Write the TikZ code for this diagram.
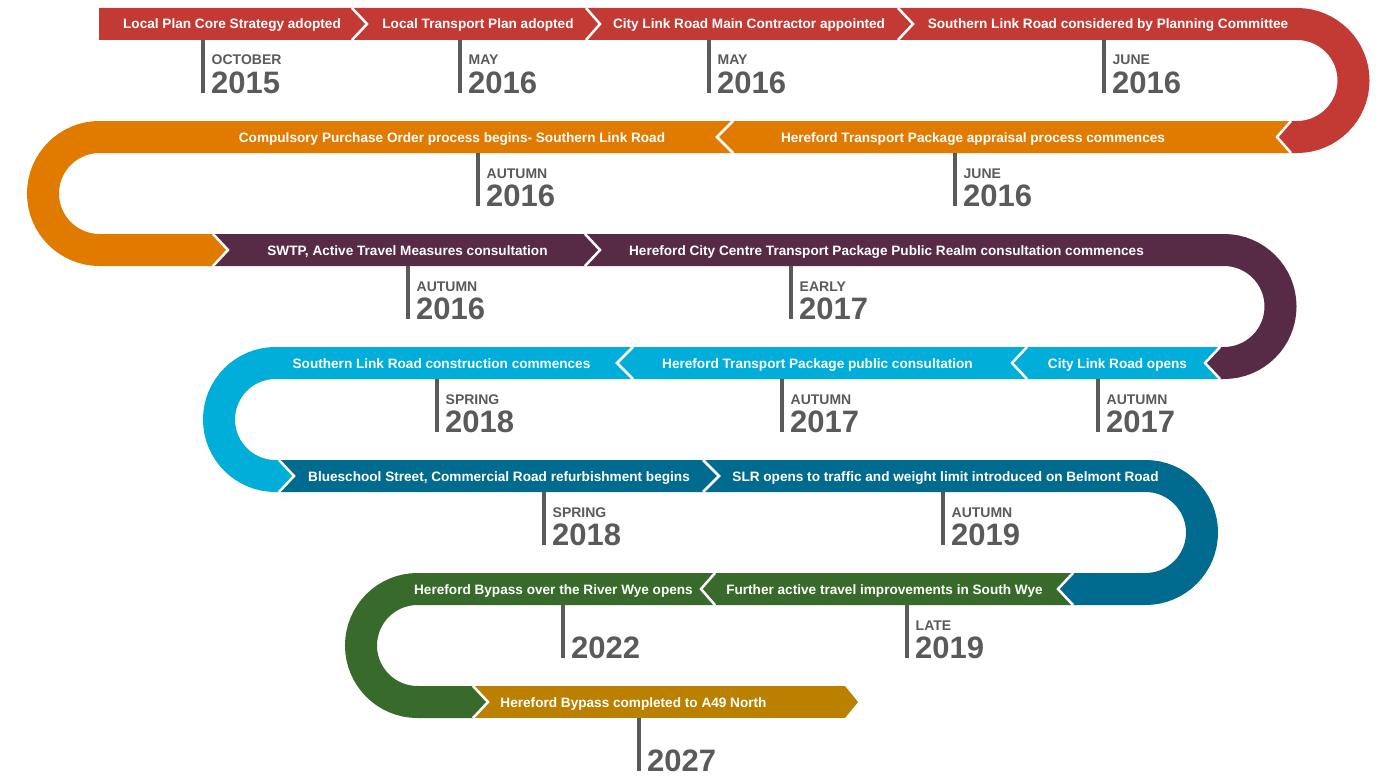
\documentclass[tikz,border=0pt]{standalone}
\usepackage{fontspec}
\setmainfont{Liberation Sans}
\usepackage{xcolor}
\usepackage{tikz}
\usetikzlibrary{positioning, calc}

\definecolor{tlred}{HTML}{C23A33}
\definecolor{tlorange}{HTML}{E17B00}
\definecolor{tlpurple}{HTML}{572A45}
\definecolor{tlcyan}{HTML}{00AED9}
\definecolor{tlteal}{HTML}{006B8F}
\definecolor{tlgreen}{HTML}{386B2B}
\definecolor{tlgold}{HTML}{BB8000}
\definecolor{tlgray}{HTML}{5A5A5A}

\begin{document}
\begin{tikzpicture}[
  x=1pt, y=1pt,
  font=\fontsize{13.6}{16}\selectfont\bfseries,
  road/.style={line width=32pt},
  sep/.style={draw=white, line width=2.5pt, miter limit=10},
  evt/.style={text=white, inner sep=0pt, anchor=base},
  tick/.style={draw=tlgray, line width=4.5pt},
  mon/.style={text=tlgray, inner sep=0pt, anchor=base west, font=\fontsize{14}{16}\selectfont\bfseries},
  yr/.style={text=tlgray, inner sep=0pt, anchor=base west, font=\fontsize{31}{34}\selectfont\bfseries}
]
\useasboundingbox (0,0) rectangle (1385,-776);

% road, one colour per turn
\draw[road, tlred] (99,-24) -- (1297,-24) arc[start angle=90, end angle=-90, radius=56.5] -- (1291,-137);
\draw[road, tlorange] (1291,-137) -- (99.5,-137) arc[start angle=90, end angle=270, radius=56.5] -- (213,-250);
\draw[road, tlpurple] (213,-250) -- (1224,-250) arc[start angle=90, end angle=-90, radius=56.5] -- (1220,-363);
\draw[road, tlcyan] (1220,-363) -- (275.5,-363) arc[start angle=90, end angle=270, radius=56.5] -- (279,-476);
\draw[road, tlteal] (279,-476) -- (1145.5,-476) arc[start angle=90, end angle=-90, radius=56.5] -- (1073,-589);
\draw[road, tlgreen] (1073,-589) -- (417.5,-589) arc[start angle=90, end angle=270, radius=56.5] -- (473,-702);
\draw[road, tlgold] (473,-702) -- (845,-702);

% arrow tips where the colour changes
\foreach \xa/\xb/\r/\c in {1293/1277/1/tlred, 211/228/2/tlorange, 1222/1205/3/tlpurple,
    277/294/4/tlcyan, 1075/1058/5/tlteal, 471/488/6/tlgreen, 845/858/6/tlgold}
  \fill[\c] (\xa,{-8-113*\r}) -- (\xb,{-24-113*\r}) -- (\xa,{-40-113*\r}) -- cycle;

% white separators
\foreach \xa/\xb/\r in {352/367/0, 586/600/0, 898/913/0, 1291/1277/1, 733/717/1,
    213/228/2, 585/600/2, 1220/1205/3, 1027/1012/3, 633/617/3,
    279/294/4, 703/719/4, 1073/1058/5, 715/701/5, 473/488/6}
  \draw[sep] (\xa,{-8-113*\r}) -- (\xb,{-24-113*\r}) -- (\xa,{-40-113*\r});

% events
\foreach \x/\r/\t [count=\i] in {
    232/0/Local Plan Core Strategy adopted,
    478/0/Local Transport Plan adopted,
    749/0/City Link Road Main Contractor appointed,
    1108/0/Southern Link Road considered by Planning Committee,
    452/1/Compulsory Purchase Order process begins- Southern Link Road,
    973/1/Hereford Transport Package appraisal process commences,
    407.5/2/{SWTP, Active Travel Measures consultation},
    886.5/2/Hereford City Centre Transport Package Public Realm consultation commences,
    441.5/3/Southern Link Road construction commences,
    817.5/3/Hereford Transport Package public consultation,
    1117.5/3/City Link Road opens,
    499/4/{Blueschool Street, Commercial Road refurbishment begins},
    945.5/4/SLR opens to traffic and weight limit introduced on Belmont Road,
    553.5/5/Hereford Bypass over the River Wye opens,
    884.5/5/Further active travel improvements in South Wye,
    633.5/6/Hereford Bypass completed to A49 North}
  \node[evt] (ev\i) at (\x,{-29-113*\r}) {\t};

% dates
\foreach \x/\r/\m/\yr [count=\i] in {
    203/0/OCTOBER/2015, 460/0/MAY/2016, 709/0/MAY/2016, 1104/0/JUNE/2016,
    478/1/AUTUMN/2016, 955/1/JUNE/2016,
    408/2/AUTUMN/2016, 791/2/EARLY/2017,
    437/3/SPRING/2018, 782/3/AUTUMN/2017, 1098/3/AUTUMN/2017,
    544/4/SPRING/2018, 943/4/AUTUMN/2019,
    563/5//2022, 907/5/LATE/2019,
    639/6//2027}
{
  \coordinate (tk\i) at (\x,{-40-113*\r});
  \draw[tick] (tk\i) -- ++(0,-53);
  \node[mon] (mo\i) at ($(tk\i)+(8.5,-25)$) {\m};
  \node[yr] (yr\i) at ($(tk\i)+(8,-53.5)$) {\yr};
}
\end{tikzpicture}
\end{document}
